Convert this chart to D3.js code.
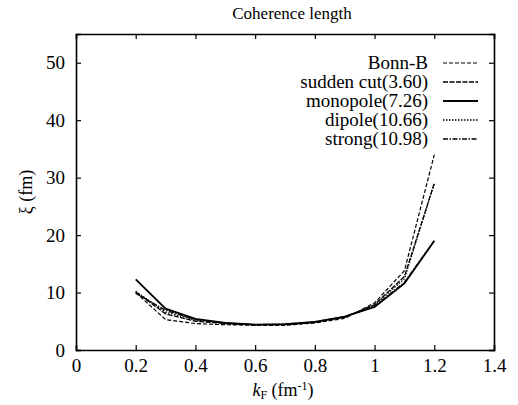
<!DOCTYPE html>
<html>
<head>
<meta charset="utf-8">
<script src="https://cdn.jsdelivr.net/npm/d3@7"></script>
<style>
  body { margin: 0; background: #fff; }
  svg text { font-family: 'Liberation Serif', 'Times New Roman', serif !important; }
</style>
</head>
<body>
<div id="chart"></div>
<script>
// kF values (fm^-1)
const kF = [0.2, 0.3, 0.4, 0.5, 0.6, 0.7, 0.8, 0.9, 1.0, 1.1, 1.2]

const bonnB      = [10.0, 5.3, 4.6, 4.4, 4.3, 4.3, 4.7, 5.5, 8.2, 13.8, 34.0]
const suddenCut  = [10.1, 6.3, 5.0, 4.6, 4.4, 4.4, 4.8, 5.7, 7.9, 12.8, 29.0]
const monopole   = [12.3, 7.2, 5.4, 4.7, 4.4, 4.5, 4.9, 5.8, 7.5, 11.6, 19.0]
const dipole     = [10.2, 6.6, 5.2, 4.7, 4.4, 4.4, 4.8, 5.7, 7.8, 12.4, 29.0]
const strong     = [9.9, 6.9, 5.3, 4.7, 4.4, 4.5, 4.9, 5.8, 7.6, 11.8, 19.0]

const seriesNames = ["Bonn-B", "sudden cut(3.60)", "monopole(7.26)", "dipole(10.66)", "strong(10.98)"]
const seriesValues = [bonnB, suddenCut, monopole, dipole, strong]

const xTicks = [0, 0.2, 0.4, 0.6, 0.8, 1, 1.2, 1.4]
const yTicks = [0, 10, 20, 30, 40, 50]

const width = 518
const height = 405
const margin = { top: 34, right: 24, bottom: 55, left: 76 }

const dashes = ["4,2", "5,1.5", null, "1.5,1.5", "5,1.5,1.5,1.5"]
const widths = [1.2, 1.3, 1.8, 1.3, 1.3]

const svg = d3.select("#chart")
    .append("svg")
    .attr("width", width)
    .attr("height", height)

const x = d3.scaleLinear()
    .domain([0, 1.4])
    .range([margin.left, width - margin.right])

const y = d3.scaleLinear()
    .domain([0, 55])
    .range([height - margin.bottom, margin.top])

// axes, ticks pointing inward on all four sides
const fmt = d => d === 0 || d === 1 ? String(d) : d3.format(".1f")(d)

svg.append("g")
    .attr("transform", `translate(0,${y(0)})`)
    .call(d3.axisBottom(x).tickValues(xTicks).tickSize(-5).tickPadding(9).tickFormat(fmt))

svg.append("g")
    .attr("transform", `translate(0,${y(55)})`)
    .call(d3.axisTop(x).tickValues(xTicks).tickSize(-5).tickFormat(""))

svg.append("g")
    .attr("transform", `translate(${x(0)},0)`)
    .call(d3.axisLeft(y).tickValues(yTicks).tickSize(-5).tickPadding(11))

svg.append("g")
    .attr("transform", `translate(${x(1.4)},0)`)
    .call(d3.axisRight(y).tickValues(yTicks).tickSize(-5).tickFormat(""))

svg.selectAll("g").attr("font-size", 19)
svg.selectAll(".domain").attr("stroke-width", 1.6)
svg.selectAll(".tick line").attr("stroke-width", 1.2)

// curves
const line = d3.line()
    .x((d, i) => x(kF[i]))
    .y(d => y(d))

svg.append("g")
    .selectAll("path")
    .data(seriesValues)
    .enter()
    .append("path")
    .attr("d", line)
    .attr("fill", "none")
    .attr("stroke", "#000")
    .attr("stroke-width", (d, i) => widths[i])
    .attr("stroke-dasharray", (d, i) => dashes[i])

// legend
const legend = svg.append("g")
    .selectAll("g")
    .data(seriesNames)
    .enter()
    .append("g")
    .attr("transform", (d, i) => `translate(0,${63 + i * 19})`)

legend.append("text")
    .attr("x", 428)
    .attr("y", 6)
    .attr("text-anchor", "end")
    .attr("font-size", 19)
    .text(d => d)

legend.append("line")
    .attr("x1", 443)
    .attr("x2", 478)
    .attr("stroke", "#000")
    .attr("stroke-width", (d, i) => widths[i])
    .attr("stroke-dasharray", (d, i) => dashes[i])

// titles
svg.append("text")
    .attr("x", 292)
    .attr("y", 19)
    .attr("text-anchor", "middle")
    .attr("font-size", 17)
    .text("Coherence length")

const xl = svg.append("text")
    .attr("x", 283)
    .attr("y", 396)
    .attr("text-anchor", "middle")
    .attr("font-size", 18)
xl.append("tspan").attr("font-style", "italic").text("k")
xl.append("tspan").attr("font-size", 12).attr("dy", 3).text("F")
xl.append("tspan").attr("dy", -3).text(" (fm")
xl.append("tspan").attr("font-size", 12).attr("dy", -6).text("-1")
xl.append("tspan").attr("dy", 6).text(")")

svg.append("text")
    .attr("transform", "translate(32,192) rotate(-90)")
    .attr("text-anchor", "middle")
    .attr("font-size", 18)
    .text("ξ (fm)")
</script>
</body>
</html>
